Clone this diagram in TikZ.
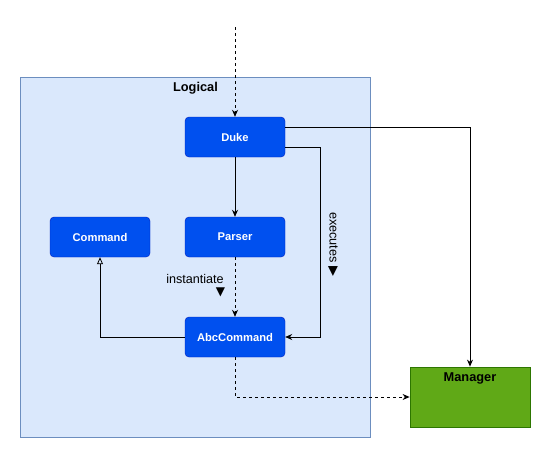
\documentclass[tikz,border=0pt]{standalone}
\usepackage{fontspec}
\setmainfont{Liberation Sans}
\newfontfamily\symfont{DejaVu Sans}
\usetikzlibrary{arrows.meta}
\definecolor{frameFill}{HTML}{DAE8FC}
\definecolor{frameLine}{HTML}{6C8EBF}
\definecolor{boxFill}{HTML}{0050EF}
\definecolor{boxLine}{HTML}{001DBC}
\definecolor{mgrFill}{HTML}{60A917}
\definecolor{mgrLine}{HTML}{2D7600}
\tikzset{
  cls/.style={draw=boxLine, fill=boxFill, rounded corners=4pt, minimum width=100pt, minimum height=40pt, text=white, font=\fontsize{11.2}{13}\selectfont\bfseries, inner sep=0pt},
  conn/.style={draw=black, line width=0.8pt, -{Stealth[length=7pt,width=6pt]}},
  dashconn/.style={conn, dash pattern=on 3pt off 3pt},
  lbl/.style={inner sep=0pt}
}
\begin{document}
\begin{tikzpicture}[x=1pt,y=-1pt]
\useasboundingbox (0,0) rectangle (551,458);
\node[draw=frameLine, fill=frameFill, line width=0.8pt, minimum width=350pt, minimum height=360pt, anchor=north west, inner sep=0pt] (frame) at (20,77) {};
\node[font=\fontsize{12.8}{15}\selectfont\bfseries] (title) at (195.5,88) {Logical};
\node[cls] (duke) at (235,137) {Duke};
\node[cls] (parser) at (235,237) {Parser};
\node[cls] (command) at (100,237) {Command};
\node[cls] (abc) at (235,337) {AbcCommand};
\node[draw=mgrLine, fill=mgrFill, line width=0.8pt, minimum width=120pt, minimum height=60pt, inner sep=0pt] (mgr) at (470,397) {};
\node[font=\fontsize{12.8}{15}\selectfont\bfseries] (mgrlbl) at (470,378.5) {Manager};
\coordinate (start) at (235,27);
\draw[dashconn] (start) -- (duke.north);
\draw[conn] (duke.east |- 0,127) -- (470,127) -- (mgr.north);
\draw[conn] (duke.east |- 0,147) -- (320,147) -- (320,337) -- (abc.east);
\draw[conn] (duke.south) -- (parser.north);
\draw[dashconn] (parser.south) -- (abc.north);
\draw[draw=black, line width=0.8pt, -{Triangle[open,length=7pt,width=6pt]}] (abc.west) -- (100,337) -- (command.south);
\draw[dashconn] (abc.south) -- (235,397) -- (mgr.west);
\node[lbl, rotate=-90, anchor=center] (exec) at (333,244.5) {\fontsize{12.7}{14}\selectfont executes\hspace{4pt}{\symfont\fontsize{13}{13}\selectfont ▶}};
\node[lbl, font=\fontsize{12.6}{15}\selectfont] (inst) at (195,278.5) {instantiate};
\node[lbl, font=\symfont\fontsize{12}{12}\selectfont] (insttri) at (220.5,292) {▼};
\end{tikzpicture}
\end{document}
